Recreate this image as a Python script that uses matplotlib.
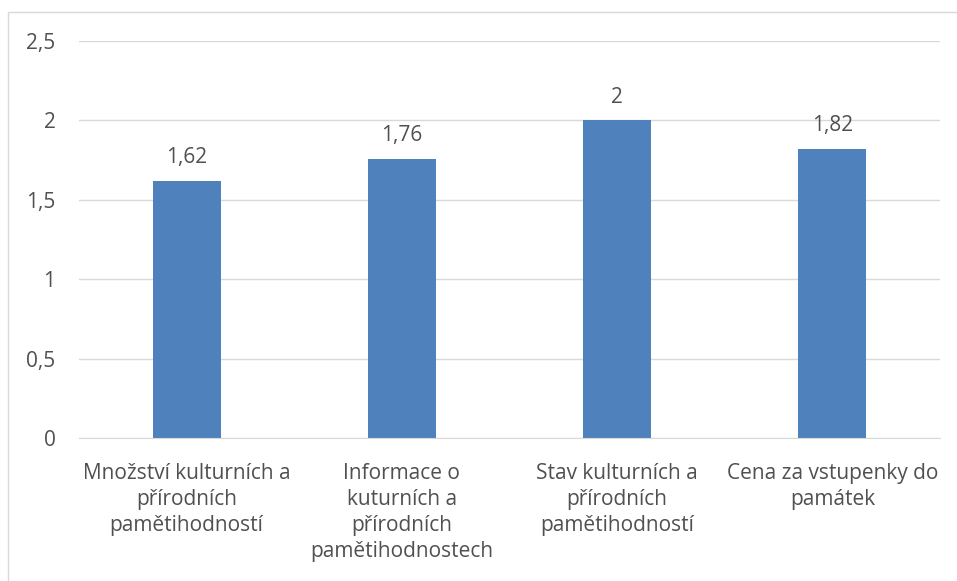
import matplotlib
matplotlib.use("Agg")
import matplotlib.pyplot as plt
from matplotlib.patches import Rectangle

categories = [
    "Množství kulturních a\npřírodních\npamětihodností",
    "Informace o\nkuturních a\npřírodních\npamětihodnostech",
    "Stav kulturních a\npřírodních\npamětihodností",
    "Cena za vstupenky do\npamátek",
]
values = [1.62, 1.76, 2.0, 1.82]
value_labels = ["1,62", "1,76", "2", "1,82"]
y_ticks = [0, 0.5, 1, 1.5, 2, 2.5]
y_tick_labels = ["0", "0,5", "1", "1,5", "2", "2,5"]

plt.rcParams["font.family"] = ["Open Sans", "DejaVu Sans"]
text_color = "#505050"
grid_color = "#D9D9D9"
fs = 15

fig = plt.figure(figsize=(9.57, 5.81), dpi=100)
fig.patch.set_facecolor("white")

# chart frame
fig.patches.append(Rectangle((8 / 957, -0.1), 1.2, 1.1 - 12 / 581,
                             transform=fig.transFigure, fill=False,
                             edgecolor=grid_color, linewidth=1.0))

ax = fig.add_axes([79 / 957, 1 - 438 / 581, (940 - 79) / 957, (438 - 41) / 581])
x = list(range(len(categories)))
bars = ax.bar(x, values, width=0.316, color="#4F81BD", zorder=3)

for xi, v, lab in zip(x, values, value_labels):
    ax.annotate(lab, (xi, v), xytext=(0, 9), textcoords="offset points",
                ha="center", va="bottom", fontsize=fs, color=text_color)

ax.set_xlim(-0.5, len(categories) - 0.5)
ax.set_ylim(0, 2.5)
ax.set_yticks(y_ticks)
ax.set_yticklabels(y_tick_labels)
ax.set_xticks(x)
ax.set_xticklabels(categories, linespacing=1.32, multialignment="center")
ax.tick_params(axis="both", length=0, labelsize=fs, colors=text_color)
ax.tick_params(axis="y", pad=17)
ax.tick_params(axis="x", pad=18)
ax.yaxis.grid(True, color=grid_color, linewidth=1.0, zorder=0)
for s in ["top", "right", "left"]:
    ax.spines[s].set_visible(False)
ax.spines["bottom"].set_color(grid_color)
ax.spines["bottom"].set_zorder(4)

fig.savefig("out.png", dpi=100)
